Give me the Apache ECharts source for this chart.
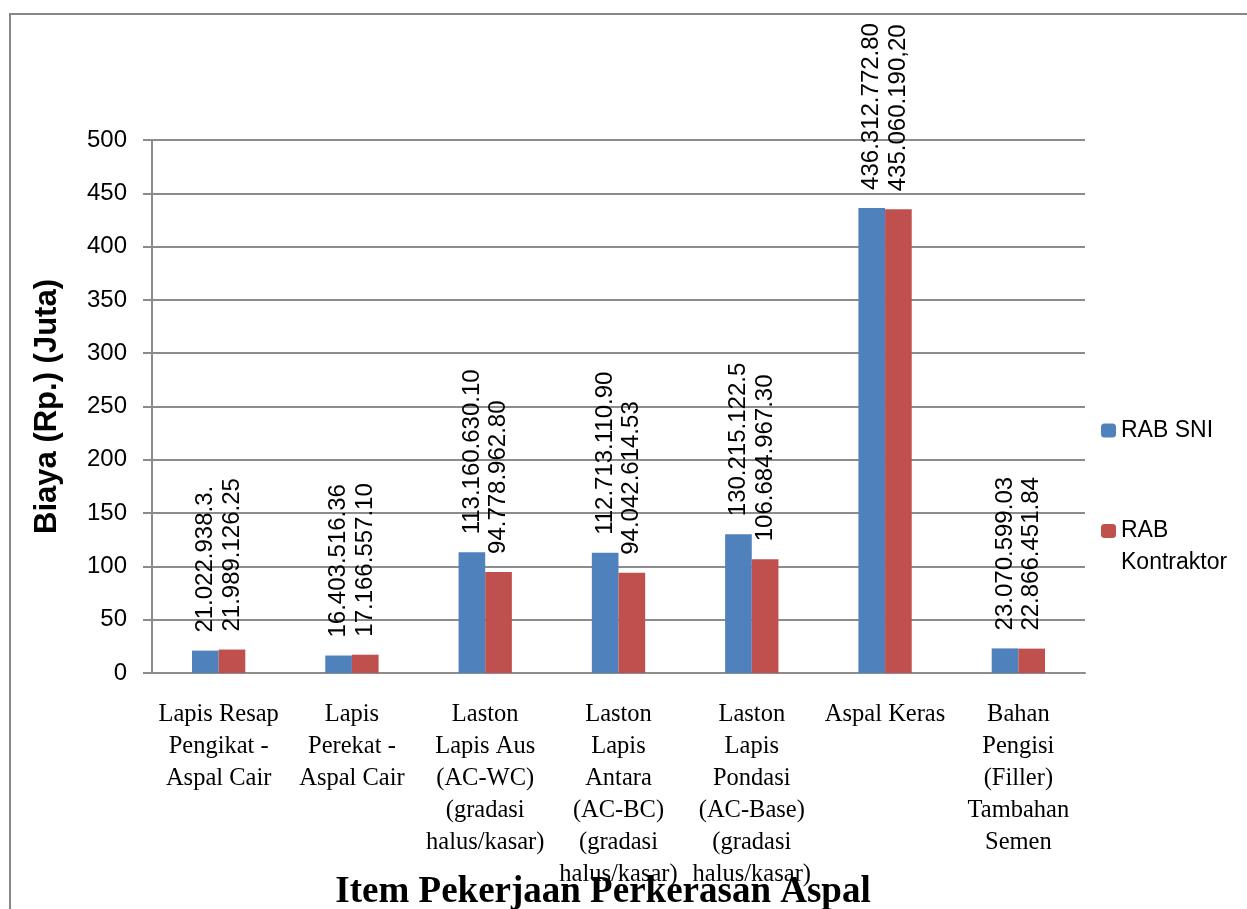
<!DOCTYPE html>
<html>
<head>
<meta charset="utf-8">
<script src="https://cdn.jsdelivr.net/npm/echarts@6/dist/echarts.min.js"></script>
<style>
  html, body { margin: 0; padding: 0; background: #fff; }
  #chart { width: 1247px; height: 909px; }
</style>
</head>
<body>
<div id="chart"></div>
<script>
// kategori pekerjaan (label sumbu X, sudah dengan pemenggalan baris)
const categories = [
  'Lapis Resap\nPengikat -\nAspal Cair',
  'Lapis\nPerekat -\nAspal Cair',
  'Laston\nLapis Aus\n(AC-WC)\n(gradasi\nhalus/kasar)',
  'Laston\nLapis\nAntara\n(AC-BC)\n(gradasi\nhalus/kasar)',
  'Laston\nLapis\nPondasi\n(AC-Base)\n(gradasi\nhalus/kasar)',
  'Aspal Keras',
  'Bahan\nPengisi\n(Filler)\nTambahan\nSemen'
]

// nilai dalam juta rupiah
const rabSni = [21.02, 16.40, 113.16, 112.71, 130.22, 436.31, 23.07]
const rabKontraktor = [21.99, 17.17, 94.78, 94.04, 106.68, 435.06, 22.87]

// teks label di atas batang
const labelSni = ['21.022.938.3.', '16.403.516.36', '113.160.630.10', '112.713.110.90', '130.215.122.5', '436.312.772.80', '23.070.599.03']
const labelKontraktor = ['21.989.126.25', '17.166.557.10', '94.778.962.80', '94.042.614.53', '106.684.967.30', '435.060.190,20', '22.866.451.84']

const yMin = 0
const yMax = 500
const yStep = 50

const myChart = echarts.init(document.getElementById('chart'))

const sans = 'Liberation Sans'
const serif = 'Liberation Serif'
const gridColor = '#8c8c8c'

function barLabel(texts) {
  return {
    show: true,
    position: 'top',
    distance: 18,
    rotate: 90,
    align: 'left',
    verticalAlign: 'middle',
    fontFamily: sans,
    fontSize: 24,
    color: '#000',
    formatter: p => texts[p.dataIndex]
  }
}

const option = {
  animation: false,
  backgroundColor: '#fff',
  graphic: [{
    type: 'rect',
    shape: { x: 10, y: 14, width: 1400, height: 1000 },
    style: { fill: 'none', stroke: '#878787', lineWidth: 2 },
    silent: true
  }],
  title: {
    text: 'Item Pekerjaan Perkerasan Aspal',
    left: 603,
    top: 874,
    padding: 0,
    textAlign: 'center',
    textStyle: { fontFamily: serif, fontSize: 37, fontWeight: 'bold', color: '#000' }
  },
  legend: [
    {
      data: ['RAB SNI'],
      left: 1101,
      top: 419,
      padding: 0,
      itemWidth: 15,
      itemHeight: 14,
      selectedMode: false,
      textStyle: { fontFamily: sans, fontSize: 23, color: '#000' }
    },
    {
      data: ['RAB Kontraktor'],
      left: 1101,
      top: 483,
      padding: 0,
      itemWidth: 15,
      itemHeight: 14,
      selectedMode: false,
      // baris kosong di depan agar "RAB" sejajar dengan ikon
      formatter: name => '\n' + name.replace(' ', '\n'),
      textStyle: { fontFamily: sans, fontSize: 23, color: '#000', lineHeight: 32 }
    }
  ],
  grid: { left: 152, right: 162, top: 140, bottom: 236 },
  xAxis: {
    type: 'category',
    data: categories,
    axisLine: { lineStyle: { color: gridColor, width: 2 } },
    axisTick: { show: false },
    axisLabel: {
      interval: 0,
      margin: 26,
      fontFamily: serif,
      fontSize: 24.5,
      lineHeight: 32,
      color: '#000'
    }
  },
  yAxis: {
    type: 'value',
    min: yMin,
    max: yMax,
    interval: yStep,
    name: 'Biaya (Rp.) (Juta)',
    nameLocation: 'middle',
    nameGap: 89,
    nameTextStyle: { fontFamily: sans, fontSize: 31, fontWeight: 'bold', color: '#000' },
    axisLine: { show: true, lineStyle: { color: gridColor, width: 2 } },
    axisTick: { show: true, length: 9, lineStyle: { color: gridColor, width: 2 } },
    splitLine: { lineStyle: { color: gridColor, width: 2 } },
    axisLabel: { margin: 25, fontFamily: sans, fontSize: 24, color: '#000' }
  },
  series: [
    {
      name: 'RAB SNI',
      type: 'bar',
      data: rabSni,
      barGap: '0%',
      barCategoryGap: '60%',
      itemStyle: { color: '#4F81BD' },
      label: barLabel(labelSni)
    },
    {
      name: 'RAB Kontraktor',
      type: 'bar',
      data: rabKontraktor,
      barGap: '0%',
      barCategoryGap: '60%',
      itemStyle: { color: '#C0504D' },
      label: barLabel(labelKontraktor)
    }
  ]
}

myChart.setOption(option)
window.onresize = () => { myChart.resize() }
</script>
</body>
</html>
